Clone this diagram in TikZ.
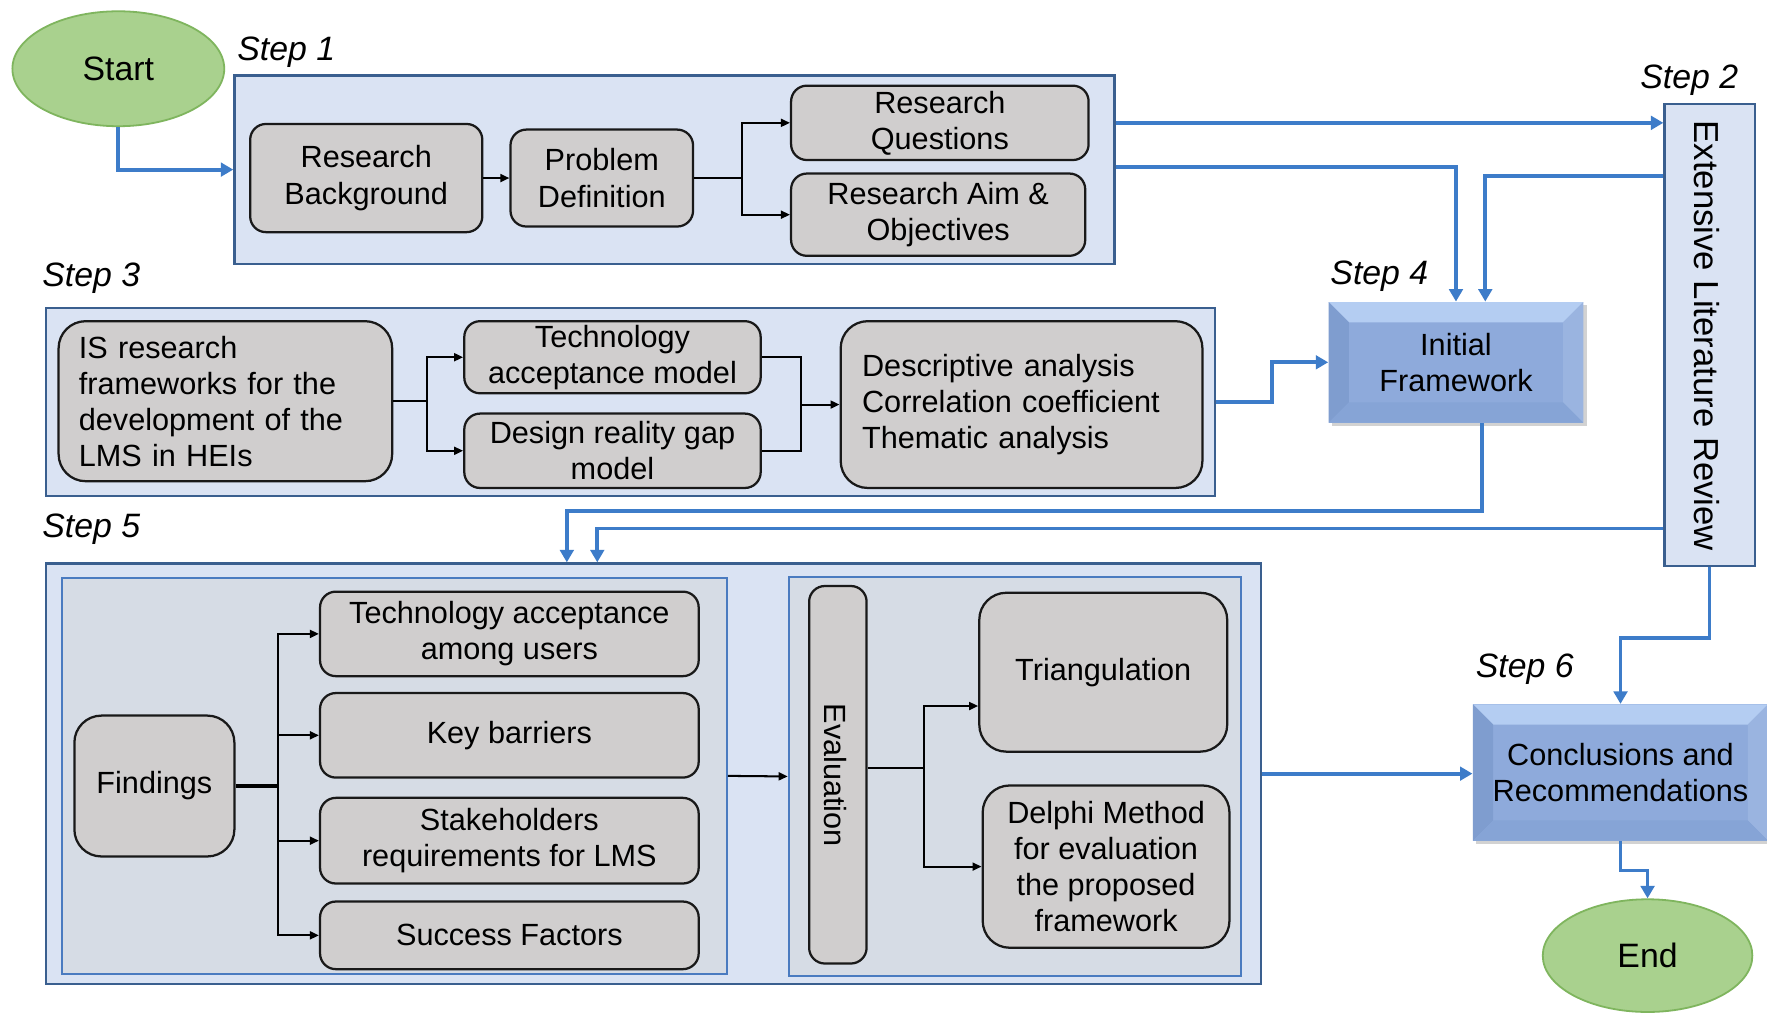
\documentclass[tikz,border=0pt]{standalone}
\usepackage{fontspec}
\setmainfont{Liberation Sans}
\usetikzlibrary{arrows.meta,shapes.geometric,calc,shadows}

\definecolor{stepfill}{HTML}{DAE3F3}
\definecolor{stepline}{HTML}{3A5F8F}
\definecolor{subfill}{HTML}{D6DCE5}
\definecolor{subline}{HTML}{4A7BC0}
\definecolor{grayfill}{HTML}{D0CECE}
\definecolor{flow}{HTML}{3D7CC9}
\definecolor{termfill}{HTML}{A9D18E}
\definecolor{termline}{HTML}{7FB55E}
\definecolor{bvmid}{HTML}{8EAADB}
\definecolor{bvtop}{HTML}{B4CDF2}
\definecolor{bvleft}{HTML}{7F9DCF}
\definecolor{bvright}{HTML}{9AB4E0}
\definecolor{bvbot}{HTML}{86A4D6}

\newcommand\mainsz{\fontsize{13.6pt}{16pt}\selectfont}
\newcommand\lblsz{\fontsize{15pt}{18pt}\selectfont}
\newcommand\termsz{\fontsize{15pt}{18pt}\selectfont}
\newcommand\revsz{\fontsize{15.4pt}{18pt}\selectfont}

\tikzset{
  stepbox/.style={draw=stepline, fill=stepfill, line width=1pt},
  subbox/.style={draw=subline, fill=subfill, line width=1pt},
  gbox/.style={draw=black!90, fill=grayfill, rounded corners=7pt, line width=1pt},
  term/.style={ellipse, draw=termline, fill=termfill, line width=0.8pt, font=\termsz},
  bevelbox/.style={fill=bvmid,
    drop shadow={shadow xshift=1.5pt, shadow yshift=-1.5pt, opacity=.35},
    path picture={
      \coordinate (bnw) at (path picture bounding box.north west);
      \coordinate (bne) at (path picture bounding box.north east);
      \coordinate (bsw) at (path picture bounding box.south west);
      \coordinate (bse) at (path picture bounding box.south east);
      \fill[bvtop] (bnw) -- (bne) -- ([shift={(-9pt,-9pt)}]bne) -- ([shift={(9pt,-9pt)}]bnw) -- cycle;
      \fill[bvleft] (bnw) -- ([shift={(9pt,-9pt)}]bnw) -- ([shift={(9pt,9pt)}]bsw) -- (bsw) -- cycle;
      \fill[bvright] (bne) -- ([shift={(-9pt,-9pt)}]bne) -- ([shift={(-9pt,9pt)}]bse) -- (bse) -- cycle;
      \fill[bvbot] (bsw) -- ([shift={(9pt,9pt)}]bsw) -- ([shift={(-9pt,9pt)}]bse) -- (bse) -- cycle;
    }},
  steplbl/.style={font=\lblsz\itshape},
  flowline/.style={draw=flow, line width=1.7pt},
  flowarrow/.style={flowline, -{Triangle[length=5.5pt,width=6pt]}},
  blk/.style={draw=black, line width=0.9pt},
  blkarrow/.style={blk, -{Triangle[length=4pt,width=3.5pt]}},
}

\begin{document}
\begin{tikzpicture}[x=0.5pt,y=-0.5pt,
  every node/.style={font=\mainsz, inner sep=0pt, align=center}]

\fill[white] (0,0) rectangle (1568,900);
\useasboundingbox (0,0) rectangle (1568,900);

% ---------- Step 1 ----------
\node[stepbox, minimum width=390.5pt, minimum height=83.5pt] (s1box) at (598.5,150.5) {};
\node[steplbl] (s1lbl) at (254,46) {Step 1};
\node[gbox, minimum width=103pt, minimum height=48pt] (rb) at (325,158) {Research\\Background};
\node[gbox, minimum width=81pt, minimum height=43pt] (pd) at (534,158) {Problem\\Definition};
\node[gbox, minimum width=132pt, minimum height=33pt] (rq) at (834,109) {Research\\Questions};
\node[gbox, minimum width=130.5pt, minimum height=36.5pt] (ra) at (832.5,190.5) {Research Aim \&\\Objectives};

% ---------- Step 2 ----------
\node[stepbox, minimum width=40pt, minimum height=205pt] (s2box) at (1517,297) {};
\node[rotate=-90, font=\revsz] (s2txt) at (1515,298) {Extensive Literature Review};
\node[steplbl] (s2lbl) at (1499,71) {Step 2};

% ---------- Step 4 ----------
\node[bevelbox, minimum width=113pt, minimum height=53.5pt] (IF) at (1292,321.5) {Initial\\Framework};
\node[steplbl] (s4lbl) at (1224,245) {Step 4};

% ---------- Step 3 ----------
\node[stepbox, minimum width=518.5pt, minimum height=83.5pt] (s3box) at (559.5,356.5) {};
\node[steplbl] (s3lbl) at (81,247) {Step 3};
\node[gbox, rounded corners=12pt, text width=130pt, inner xsep=9pt, minimum height=71pt, align=left] (isr) at (200,356)
  {IS research\\frameworks for the\\development of the\\LMS in HEIs};
\node[gbox, minimum width=131.5pt, minimum height=32pt] (tam) at (543.5,317) {Technology\\acceptance model};
\node[gbox, minimum width=131.5pt, minimum height=33pt] (drg) at (543.5,400) {Design reality gap\\model};
\node[gbox, rounded corners=12pt, text width=141.5pt, inner xsep=9.5pt, minimum height=74pt, align=left] (desc) at (906.5,359)
  {Descriptive analysis\\Correlation coefficient\\Thematic analysis};

% ---------- Step 5 ----------
\node[stepbox, minimum width=539pt, minimum height=186.5pt] (s5box) at (580,686.5) {};
\node[steplbl] (s5lbl) at (81,470) {Step 5};
\node[subbox, minimum width=295pt, minimum height=175.5pt] (inL) at (350,688.5) {};
\node[subbox, minimum width=200.5pt, minimum height=177pt] (inR) at (900.5,689) {};
\node[gbox, rounded corners=12pt, minimum width=71pt, minimum height=62.5pt] (find) at (137,697.5) {Findings};
\node[gbox, minimum width=168pt, minimum height=37.5pt] (tau) at (452,562.5) {Technology acceptance\\among users};
\node[gbox, minimum width=168pt, minimum height=37.5pt] (kb) at (452,652.5) {Key barriers};
\node[gbox, minimum width=168pt, minimum height=38pt] (sh) at (452,746) {Stakeholders\\requirements for LMS};
\node[gbox, minimum width=168pt, minimum height=30pt] (sf) at (452,830) {Success Factors};
\node[gbox, minimum width=25.5pt, minimum height=167.5pt] (eval) at (743.5,687.5) {};
\node[rotate=-90] (evaltxt) at (741,688) {Evaluation};
\node[gbox, rounded corners=12pt, minimum width=110pt, minimum height=70.5pt] (tri) at (979,596.5) {Triangulation};
\node[gbox, rounded corners=12pt, minimum width=109.5pt, minimum height=72pt] (del) at (981.5,769)
  {Delphi Method\\for evaluation\\the proposed\\framework};

% ---------- Step 6 ----------
\node[bevelbox, minimum width=131pt, minimum height=60.5pt] (concl) at (1438,685.5) {Conclusions and\\Recommendations};
\node[steplbl] (s6lbl) at (1353,594) {Step 6};

% ---------- terminals ----------
\node[term, minimum width=94pt, minimum height=51pt] (start) at (105,61) {Start};
\node[term, minimum width=93pt, minimum height=50pt] (end) at (1462,848) {End};

% ---------- connectors inside the steps ----------
\draw[blkarrow] (rb.east) -- (pd.west);
\draw[blk] (pd.east) -- ++(42,0) coordinate (j1);
\draw[blkarrow] (j1) |- (rq.west);
\draw[blkarrow] (j1) |- (ra.west);

\draw[blk] (isr.east) -- ++(30,0) coordinate (j2);
\draw[blkarrow] (j2) |- (tam.west);
\draw[blkarrow] (j2) |- (drg.west);
\draw[blk] (tam.east) -- ++(35,0) coordinate (j3) -- (j3 |- drg.east) -- (drg.east);
\draw[blkarrow] (j3 |- desc.west) -- (desc.west);

\draw[blk, line width=1.4pt] (find.east) -- ++(38,0) coordinate (j4);
\draw[blkarrow] (j4) |- (tau.west);
\draw[blkarrow] (j4) |- (kb.west);
\draw[blkarrow] (j4) |- (sh.west);
\draw[blkarrow] (j4) |- (sf.west);

\draw[blkarrow] (inL.east) -- (inR.west);
\draw[blk] ([yshift=3pt]eval.east) -- ++(50,0) coordinate (j5);
\draw[blkarrow] (j5) |- ([yshift=-15pt]tri.west);
\draw[blkarrow] (j5) |- (del.west);

% ---------- flow between the steps ----------
\draw[flowarrow] (start.south) |- (s1box.west);
\draw[flowarrow] (s1box.east |- rq.west) -- (s2box.west |- rq.west);
\draw[flowarrow] ([yshift=1.25pt]s1box.east) -| (IF.north);
\draw[flowarrow] ([yshift=-32.5pt]s2box.north west) -| ([xshift=13pt]IF.north);
\draw[flowarrow] (s3box.east) -- ++(50,0) |- (IF.west);
\draw[flowarrow] ([xshift=11.5pt]IF.south) -- ++(0,78) -| ([xshift=-38.5pt]s5box.north);
\draw[flowarrow] ([yshift=17pt]s2box.south west) -| ([xshift=-25pt]s5box.north);
\draw[flowarrow] (s5box.east) -- (s5box.east -| concl.west);
\draw[flowarrow] (s2box.south) -- ++(0,63) -| (concl.north);
\draw[flowarrow] (concl.south) -- ++(0,26) -| (end.north);

\end{tikzpicture}
\end{document}
